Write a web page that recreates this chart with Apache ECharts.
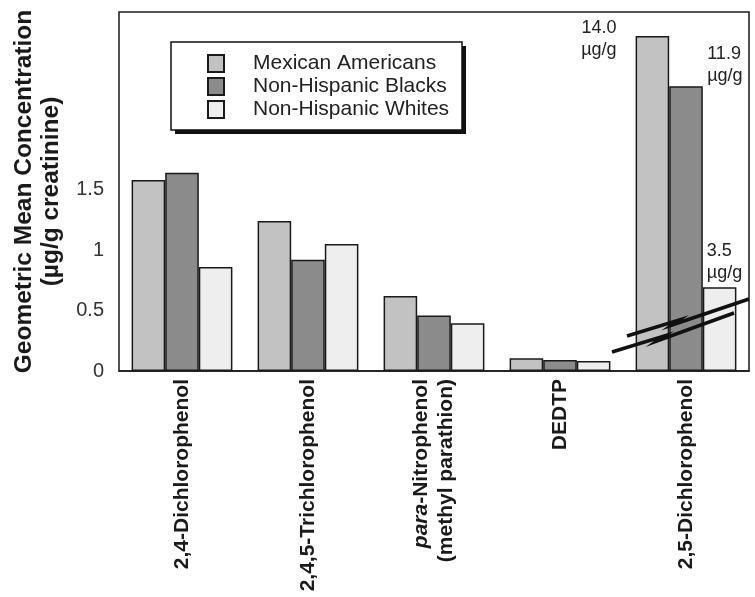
<!DOCTYPE html>
<html>
<head>
<meta charset="utf-8">
<script src="https://cdn.jsdelivr.net/npm/echarts@6/dist/echarts.min.js"></script>
<style>
html,body{margin:0;padding:0;background:#fff;}
#c{width:755px;height:597px;}
</style>
</head>
<body>
<div id="c"></div>
<script>
var categories = ['2,4-Dichlorophenol', '2,4,5-Trichlorophenol', 'para-Nitrophenol\n(methyl parathion)', 'DEDTP', '2,5-Dichlorophenol'];
var seriesNames = ['Mexican Americans', 'Non-Hispanic Blacks', 'Non-Hispanic Whites'];
var mexican = [1.58, 1.24, 0.62, 0.105, 14.0];
var blacks = [1.64, 0.92, 0.46, 0.09, 11.9];
var whites = [0.86, 1.05, 0.395, 0.083, 3.5];
var yTicks = [0, 0.5, 1, 1.5];
// bars of the last category are drawn on a compressed scale beyond the axis break
var brokenIndex = 4;
var breakFactor = 5.05;

var FONT = '"Liberation Sans", Arial, Helvetica, sans-serif';
var colors = ['#c2c2c2', '#8b8b8b', '#eeeeee'];

var labelCfg = [
  {position: [-19, -19], align: 'right'},
  {position: [38, -43], align: 'left'},
  {position: [4, -47], align: 'left'}
];

function buildData(arr, si) {
  return arr.map(function (v, i) {
    if (i !== brokenIndex) return v;
    return {
      value: v / breakFactor,
      label: {
        show: true,
        position: labelCfg[si].position,
        align: labelCfg[si].align,
        verticalAlign: 'top',
        formatter: v.toFixed(1) + '\nµg/g',
        fontFamily: FONT,
        fontSize: 18,
        lineHeight: 22,
        color: '#222'
      }
    };
  });
}

var chart = echarts.init(document.getElementById('c'), null, {renderer: 'canvas'});
var allSeries = [mexican, blacks, whites].map(function (arr, si) {
  return {
    name: seriesNames[si],
    type: 'bar',
    data: buildData(arr, si),
    barGap: '0%',
    barCategoryGap: '20%',
    itemStyle: {color: colors[si], borderColor: '#1a1a1a', borderWidth: 1.5},
    emphasis: {disabled: true},
    animation: false
  };
});

chart.setOption({
  backgroundColor: '#ffffff',
  animation: false,
  grid: {left: 119, right: 6, top: 12, bottom: 226, show: true, borderColor: '#1a1a1a', borderWidth: 1.5, backgroundColor: 'transparent'},
  legend: {
    orient: 'vertical',
    left: 171, top: 42,
    padding: [11, 14, 10, 36],
    itemWidth: 16, itemHeight: 17, itemGap: 2,
    icon: 'rect',
    textStyle: {fontFamily: FONT, fontSize: 21, color: '#222', padding: [0, 0, 0, 24]},
    selectedMode: false,
    z: 20,
    data: seriesNames
  },
  xAxis: {
    type: 'category',
    data: categories,
    axisTick: {show: false},
    axisLine: {show: true, lineStyle: {color: '#1a1a1a', width: 1.5}},
    axisLabel: {
      rotate: 90,
      margin: 8,
      interval: 0,
      fontFamily: FONT,
      fontWeight: 'bold',
      fontSize: 21,
      lineHeight: 25,
      color: '#1a1a1a',
      formatter: function (v) {
        if (v.indexOf('para-') === 0) {
          var lines = v.split('\n');
          return '{i|para}{b|' + lines[0].substring(4) + '}\n{b|' + lines[1] + '}';
        }
        return v;
      },
      rich: {
        i: {fontFamily: FONT, fontWeight: 'bold', fontStyle: 'italic', fontSize: 21, lineHeight: 25, color: '#1a1a1a'},
        b: {fontFamily: FONT, fontWeight: 'bold', fontSize: 21, lineHeight: 25, color: '#1a1a1a'}
      }
    }
  },
  yAxis: {
    type: 'value',
    min: 0, max: 2.97, interval: 0.5,
    splitLine: {show: false},
    axisTick: {show: false},
    axisLine: {show: false},
    axisLabel: {
      margin: 15,
      fontFamily: FONT,
      fontSize: 20,
      color: '#333',
      showMaxLabel: false,
      formatter: function (v) {
        for (var k = 0; k < yTicks.length; k++) {
          if (Math.abs(yTicks[k] - v) < 1e-6) return String(yTicks[k]);
        }
        return '';
      }
    },
    name: 'Geometric Mean Concentration\n(µg/g creatinine)',
    nameLocation: 'middle',
    nameGap: 54,
    nameTextStyle: {fontFamily: FONT, fontWeight: 'bold', fontSize: 24.5, lineHeight: 27, color: '#1a1a1a'}
  },
  series: allSeries,
  graphic: [
    {type: 'rect', shape: {x: 175, y: 46, width: 291, height: 88}, style: {fill: '#111'}, z: 10},
    {type: 'rect', shape: {x: 171, y: 42, width: 291, height: 88}, style: {fill: '#fff', stroke: '#111', lineWidth: 1.5}, z: 11},
    {type: 'polyline', shape: {points: [[627, 336], [679, 320], [672, 325], [749, 299]]}, style: {stroke: '#111', lineWidth: 3.5, fill: null}, z: 100},
    {type: 'polyline', shape: {points: [[612, 352], [664, 336], [657, 341], [734, 313]]}, style: {stroke: '#111', lineWidth: 3.5, fill: null}, z: 100}
  ]
});
</script>
</body>
</html>
